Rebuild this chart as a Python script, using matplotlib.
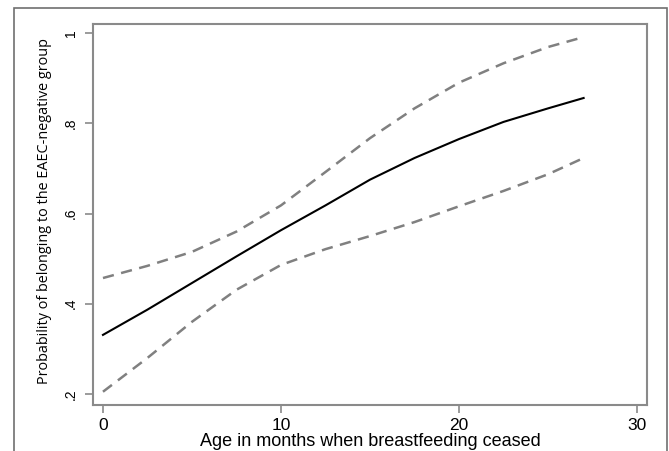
import matplotlib
matplotlib.use("Agg")
import matplotlib.pyplot as plt
from matplotlib.patches import Rectangle

# Data
age = [0, 2.5, 5, 7.5, 10, 12.5, 15, 17.5, 20, 22.5, 25, 27]
prob = [0.331, 0.387, 0.446, 0.505, 0.563, 0.618, 0.675, 0.723, 0.765, 0.803, 0.833, 0.856]
upper = [0.457, 0.484, 0.515, 0.560, 0.618, 0.692, 0.767, 0.833, 0.890, 0.933, 0.969, 0.991]
lower = [0.205, 0.280, 0.360, 0.431, 0.486, 0.521, 0.550, 0.581, 0.616, 0.650, 0.687, 0.723]

xticks = [0, 10, 20, 30]
yticks = [0.2, 0.4, 0.6, 0.8, 1.0]
ytick_labels = [".2", ".4", ".6", ".8", "1"]

fig = plt.figure(figsize=(6.69, 4.51), dpi=100)
ax = fig.add_axes([93/669, (451-405)/451, (647-93)/669, (405-24)/451])

# outer frame
fig.patches.append(Rectangle((14/669, -0.05), (667-14)/669, (451-8)/451 + 0.05,
                             transform=fig.transFigure, fill=False,
                             edgecolor="#707070", linewidth=1.2))

frame_c = "#8a8a8a"
ax.plot(age, upper, color="#808080", linewidth=1.8, linestyle=(0, (4.5, 3)))
ax.plot(age, lower, color="#808080", linewidth=1.8, linestyle=(0, (4.5, 3)))
ax.plot(age, prob, color="black", linewidth=1.5)

ax.set_xlim(-0.56, 30.56)
ax.set_ylim(0.1756, 1.020)
ax.set_xticks(xticks)
ax.set_xticklabels([str(v) for v in xticks], fontsize=12.5, family="Liberation Sans")
ax.set_yticks(yticks)
ax.set_yticklabels(ytick_labels, fontsize=10, rotation=90, va="center",
                   family="Liberation Sans")

for s in ax.spines.values():
    s.set_color(frame_c)
    s.set_linewidth(1.5)
ax.tick_params(axis="both", direction="out", length=6, width=1.2, color=frame_c)
ax.tick_params(axis="x", pad=3)
ax.tick_params(axis="y", pad=5)

ax.set_xlabel("Age in months when breastfeeding ceased", fontsize=13,
              family="Liberation Sans", labelpad=0)
ax.set_ylabel("Probability of belonging to the EAEC-negative group", fontsize=10.4,
              family="Open Sans")
ax.yaxis.set_label_coords((52-93)/(647-93), (405-211)/(405-24))

fig.savefig("out.png", dpi=100)
